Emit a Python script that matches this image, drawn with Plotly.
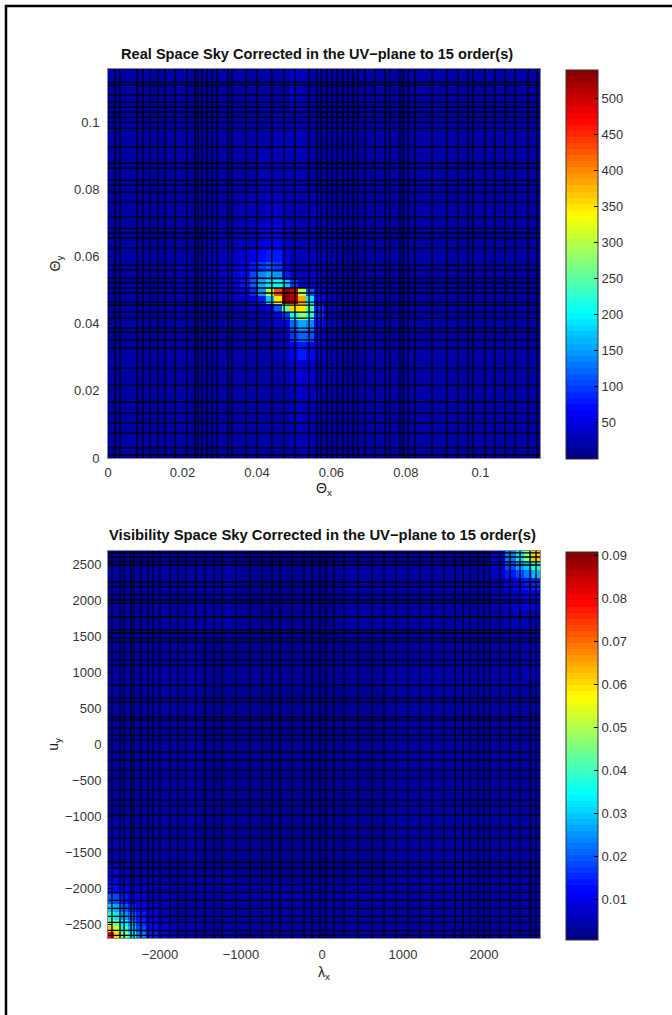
import plotly.graph_objects as go

W, H = 672, 1015

# ---- Top panel: real-space sky ----
sky_x_edges = [0, .0086, .0180, .0260, .0314, .0354, .0381, .0403, .0424, .0446, .0467, .0489,
               .0510, .0532, .0553, .0580, .0623, .0690, .0784, .0891, .1026, .116]
sky_y_edges = [0, .0113, .0218, .0292, .0346, .0382, .0412, .0435, .0459, .0483, .0507, .0531,
               .0555, .0584, .0620, .0695, .0799, .0918, .1038, .116]
# rows listed from the top of the picture to the bottom
sky_values = [
    [17,18,19,19,20,20,20,20,21,22,24,34,26,22,20,20,20,19,19,19,18],
    [18,19,20,20,21,22,22,23,24,26,26,32,26,22,21,21,20,20,19,19,18],
    [18,19,20,21,22,24,25,26,28,28,26,30,26,24,22,22,21,20,19,19,18],
    [19,20,21,23,25,27,29,32,36,36,30,28,24,26,26,24,21,20,19,19,18],
    [19,20,23,27,31,36,42,48,58,62,40,28,26,32,30,26,22,20,19,19,18],
    [19,21,25,31,38,48,58,68,80,80,50,30,28,38,36,30,23,20,19,19,18],
    [19,22,28,35,46,60,78,98,112,100,56,32,30,42,40,30,23,21,19,19,18],
    [19,22,30,40,52,74,104,140,160,145,80,42,36,46,44,32,24,21,19,19,18],
    [19,22,30,42,56,80,112,155,190,205,170,100,50,48,44,32,24,21,19,19,18],
    [19,21,28,38,48,62,88,150,300,430,525,500,300,110,60,34,24,21,19,19,18],
    [18,20,24,30,34,40,52,80,170,350,535,515,380,190,70,34,24,20,19,19,18],
    [18,19,22,24,26,30,34,42,60,110,260,360,350,240,90,36,24,20,19,19,18],
    [18,19,20,22,23,25,26,28,36,55,100,210,270,220,90,36,23,20,19,19,18],
    [18,19,20,21,22,23,24,25,28,36,62,125,160,140,70,34,22,20,19,19,18],
    [18,19,20,21,21,22,22,23,25,30,45,95,125,110,58,30,22,20,19,19,18],
    [18,19,20,21,21,21,22,22,23,26,36,60,80,72,44,28,21,20,19,19,18],
    [18,19,20,20,21,21,21,21,22,24,30,40,50,46,32,26,21,20,19,19,18],
    [18,19,19,20,20,21,21,21,21,22,25,30,34,32,27,24,20,20,19,19,18],
    [17,18,19,19,20,20,20,21,21,21,23,26,28,27,24,22,20,19,19,18,18],
]
sky_grid_x = [.0019,.0032,.0078,.0094,.0113,.0134,.0153,.0180,.0212,.0234,.0242,.0252,.0266,.0279,.0293,
              .0322,.0333,.0371,.0400,.0440,.0473,.0502,.0540,.0561,.0572,.0588,.0601,.0615,.0631,.0644,
              .0658,.0671,.0690,.0717,.0744,.0757,.0784,.0792,.0806,.0824,.0870,.0910,.0940,.0967,.0980,
              .1012,.1039,.1066,.1093,.1128,.1152]
sky_grid_y = [.1120,.1112,.1082,.1061,.1046,.1031,.1016,.1001,.0983,.0927,.0879,.0864,.0828,.0814,.0793,
              .0763,.0718,.0685,.0671,.0656,.0626,.0575,.0560,.0536,.0522,.0507,.0492,.0465,.0456,.0435,
              .0417,.0387,.0375,.0352,.0328,.0268,.0218,.0167,.0134,.0104,.0075,.0030,.0009]
sky_ticks = [0, .02, .04, .06, .08, .1]
sky_ticktext = ["0", "0.02", "0.04", "0.06", "0.08", "0.1"]
sky_cbar_ticks = [50, 100, 150, 200, 250, 300, 350, 400, 450, 500]
sky_range = (0, 539)

# ---- Bottom panel: visibility-space sky ----
vis_x_edges = [-2642,-2568,-2494,-2395,-2296,-2173,-2025,-1815,-1506,-1012,-395,222,839,1457,1827,
               2074,2259,2395,2494,2593,2691]
vis_y_edges = [-2690,-2611,-2528,-2444,-2333,-2222,-2083,-1917,-1722,-1472,-1056,-500,194,889,1444,
               1861,2139,2306,2417,2528,2680]
# thousandths, rows listed from the top of the picture to the bottom
vis_values_milli = [
    [4,4,4,4,4,4,4,4,4,3,3,4,4,4,4,9,22,32,46,62],
    [4,4,4,4,4,4,4,4,4,3,3,4,4,4,4,8,18,25,30,38],
    [4,4,4,4,4,4,4,4,4,3,3,4,4,4,4,7,14,18,22,28],
    [4,4,4,4,4,4,4,4,4,3,3,4,4,4,4,6,10,12,14,16],
    [4,4,4,4,4,4,4,4,4,3,3,4,4,4,4,5,7,8,9,10],
    [4,4,4,4,4,4,4,4,4,3,3,4,4,4,4,4,5,5,6,6],
    [4,4,4,4,4,4,4,4,3,3,3,3,4,4,4,4,4,4,5,5],
    [4,4,4,4,4,4,4,4,3,3,3,3,4,4,4,4,4,4,4,4],
    [4,4,4,4,4,4,4,4,3,3,3,3,4,4,4,4,4,4,4,4],
    [4,4,4,4,4,4,4,4,3,3,3,3,4,4,4,4,4,4,4,4],
    [5,5,5,4,4,4,4,4,3,3,3,3,4,4,4,4,4,4,4,4],
    [6,6,5,5,4,4,4,4,3,3,3,3,4,4,4,4,4,4,4,4],
    [9,8,7,6,5,5,4,4,4,3,3,3,4,4,4,4,4,4,4,4],
    [14,12,10,8,7,5,4,4,4,4,4,4,4,4,4,4,4,4,4,4],
    [20,18,14,11,9,6,5,4,4,4,4,4,4,4,4,4,4,4,4,4],
    [30,26,20,15,11,8,5,4,4,4,4,4,4,4,4,4,4,4,4,4],
    [38,32,25,19,14,9,6,4,4,4,4,4,4,4,4,4,4,4,4,4],
    [48,42,32,24,16,11,7,5,4,4,4,4,4,4,4,4,4,4,4,4],
    [62,52,38,28,18,12,8,5,4,4,4,4,4,4,4,4,4,4,4,4],
    [80,60,45,34,22,14,8,5,4,4,4,4,4,4,4,4,4,4,4,4],
]
vis_grid_x = [-2593,-2494,-2444,-2358,-2321,-2235,-2148,-2086,-2000,-1877,-1778,-1679,-1556,-1445,-1333,
              -1235,-1062,-889,-741,-617,-519,-370,-222,-124,-25,49,148,271,444,617,765,914,1062,1210,
              1358,1506,1642,1741,1827,1926,2000,2074,2197,2321,2444,2568,2642]
vis_grid_y = [2653,2597,2528,2486,2250,2181,2070,2000,1958,1764,1583,1542,1472,1417,1278,1167,1097,820,
              639,583,375,333,222,125,56,-111,-222,-361,-472,-639,-778,-861,-986,-1167,-1306,-1472,-1639,
              -1722,-1833,-1945,-2056,-2167,-2278,-2389,-2472,-2583,-2653]
vis_x_ticks = [-2000, -1000, 0, 1000, 2000]
vis_y_ticks = [-2500, -2000, -1500, -1000, -500, 0, 500, 1000, 1500, 2000, 2500]
vis_cbar_ticks = [.01, .02, .03, .04, .05, .06, .07, .08, .09]
vis_range = (0.0005, .0907)

TITLE_SKY = "Real Space Sky Corrected in the UV\u2212plane to 15 order(s)"
TITLE_VIS = "Visibility Space Sky Corrected in the UV\u2212plane to 15 order(s)"


def jet(t):
    def ramp(c):
        return max(0.0, min(1.0, 1.5 - abs(4 * t - c)))
    return "rgb(%d,%d,%d)" % (255 * ramp(3), 255 * ramp(2), 255 * ramp(1))


def stepped_jet(n=64):
    scale = []
    for i in range(n):
        col = jet((i + 0.5) / n)
        scale.append([i / n, col])
        scale.append([(i + 1) / n, col])
    return scale


def grid_trace(gx, gy, xr, yr, xaxis, yaxis):
    xs, ys = [], []
    for v in gx:
        xs += [v, v, None]
        ys += [yr[0], yr[1], None]
    for v in gy:
        xs += [xr[0], xr[1], None]
        ys += [v, v, None]
    return go.Scatter(x=xs, y=ys, mode="lines", line=dict(color="black", width=1.3),
                      hoverinfo="skip", showlegend=False, xaxis=xaxis, yaxis=yaxis)


FONT = "Liberation Sans"
tick_font = dict(family=FONT, size=13, color="#333")
ax_col = "#8a8a8a"

fig = go.Figure()


def cbar(top, bottom, ticks, fmt):
    return dict(x=566 / W, xanchor="left", xpad=0, ypad=0, thickness=32, thicknessmode="pixels",
                len=(bottom - top), lenmode="pixels", y=1 - top / H, yanchor="top",
                tickvals=ticks, ticktext=[fmt(t) for t in ticks], ticks="inside", ticklen=4,
                tickcolor="black", tickfont=tick_font, outlinecolor="#333", outlinewidth=1)


fig.add_trace(go.Heatmap(x=sky_x_edges, y=sky_y_edges, z=sky_values[::-1],
                         zmin=sky_range[0], zmax=sky_range[1], colorscale=stepped_jet(),
                         colorbar=cbar(70, 459, sky_cbar_ticks, str), xaxis="x", yaxis="y"))
fig.add_trace(grid_trace(sky_grid_x, sky_grid_y, (0, .116), (0, .116), "x", "y"))

fig.add_trace(go.Heatmap(x=vis_x_edges, y=vis_y_edges,
                         z=[[v / 1000 for v in row] for row in vis_values_milli[::-1]],
                         zmin=vis_range[0], zmax=vis_range[1], colorscale=stepped_jet(),
                         colorbar=cbar(552, 940, vis_cbar_ticks, lambda t: "%.2f" % t),
                         xaxis="x2", yaxis="y2"))
fig.add_trace(grid_trace(vis_grid_x, vis_grid_y, (-2642, 2691), (-2690, 2680), "x2", "y2"))


def axis(domain, rng, ticks, text, title, anchor, standoff, label_gap):
    return dict(domain=domain, range=rng, tickvals=ticks, ticktext=text, ticks="inside", ticklen=4,
                tickcolor="black", showgrid=False, zeroline=False, showline=True, linecolor=ax_col,
                linewidth=1, mirror=True, tickfont=tick_font, anchor=anchor, ticklabelstandoff=label_gap,
                title=dict(text=title, font=dict(family=FONT, size=14, color="#222"), standoff=standoff))


def minus(vals):
    return [str(v).replace("-", "\u2212") for v in vals]


fig.update_layout(
    width=W, height=H, margin=dict(l=0, r=0, t=0, b=0, autoexpand=False), paper_bgcolor="white",
    plot_bgcolor="white", showlegend=False,
    xaxis=axis([108 / W, 540 / W], [0, .116], sky_ticks, sky_ticktext, "\u0398<sub>x</sub>", "y", 0, 2),
    yaxis=axis([1 - 458 / H, 1 - 69 / H], [0, .116], sky_ticks, sky_ticktext, "\u0398<sub>y</sub>", "x", 10, 5),
    xaxis2=axis([108 / W, 540 / W], [-2642, 2691], vis_x_ticks, minus(vis_x_ticks), "\u03bb<sub>x</sub>", "y2", 6, 4),
    yaxis2=axis([1 - 938 / H, 1 - 551 / H], [-2690, 2680], vis_y_ticks, minus(vis_y_ticks), "u<sub>y</sub>", "x2", 2, 3),
    annotations=[
        dict(text="<b>%s</b>" % TITLE_SKY, xref="paper", yref="paper", x=317 / W, y=1 - 54 / H, showarrow=False,
             xanchor="center", yanchor="middle", font=dict(family=FONT, size=14.6, color="#111")),
        dict(text="<b>%s</b>" % TITLE_VIS, xref="paper", yref="paper", x=322 / W, y=1 - 535 / H, showarrow=False,
             xanchor="center", yanchor="middle", font=dict(family=FONT, size=14.8, color="#111")),
    ],
    shapes=[
        dict(type="line", xref="paper", yref="paper", x0=6 / W, x1=6 / W, y0=0, y1=1 - 5 / H,
             line=dict(color="black", width=2.5)),
        dict(type="line", xref="paper", yref="paper", x0=5 / W, x1=1, y0=1 - 6 / H, y1=1 - 6 / H,
             line=dict(color="black", width=2.5)),
    ],
)

fig.write_html("out.html", config=dict(displayModeBar=False),
               post_script="document.body.style.margin='0';document.body.style.overflow='hidden';")
